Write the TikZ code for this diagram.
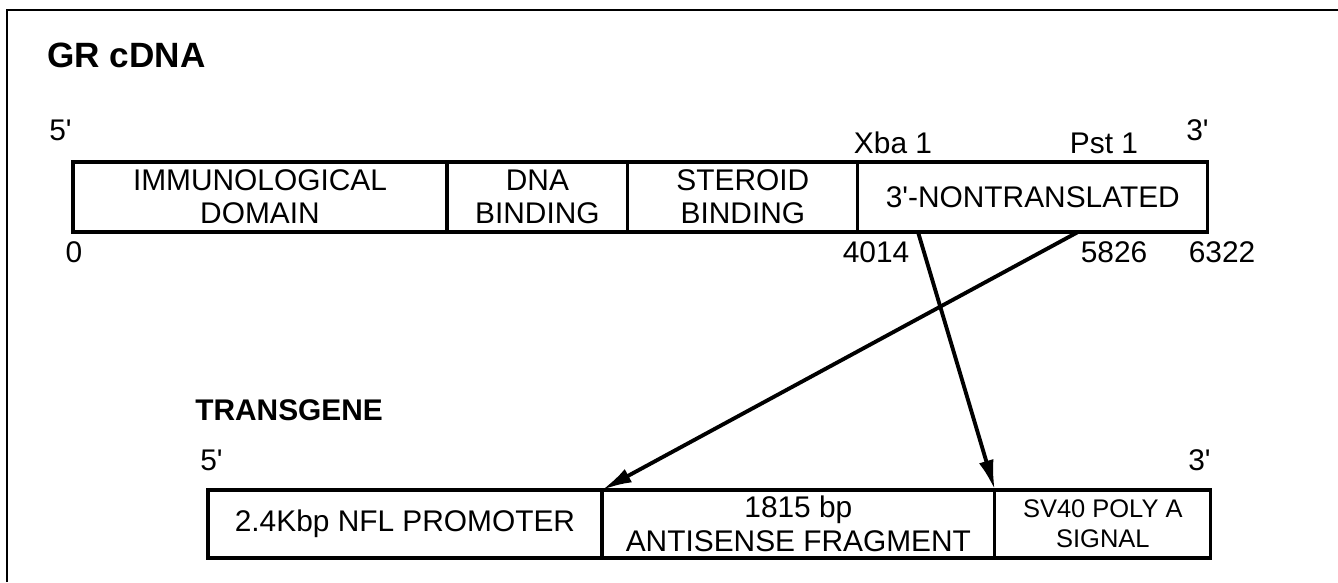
\documentclass[tikz,border=0pt]{standalone}
\usepackage{fontspec}
\setmainfont{Liberation Sans}
\usetikzlibrary{positioning,arrows.meta}
\tikzset{
	seg/.style={draw, line width=1.8pt, outer sep=0pt, inner sep=0pt, minimum height=1.4cm, align=center, font=\fontsize{17}{19}\selectfont},
	lbl/.style={inner sep=0pt, font=\fontsize{17}{19}\selectfont},
	ttl/.style={inner sep=0pt, font=\bfseries\fontsize{20}{22}\selectfont},
	cut/.style={line width=2.2pt, -{Latex[length=0.6cm,width=0.3cm]}}
}
\begin{document}
\begin{tikzpicture}[x=0.02cm,y=-0.02cm]
	\useasboundingbox (0,0) rectangle (1338,582);
	% Frame, only top and left edges show
	\draw[line width=1pt] (7,582) -- (7,10) -- (1338,10);
	% GR cDNA
	\node[ttl,anchor=west] (grtitle) at (47,55) {GR cDNA};
	\node[seg,minimum width=7.48cm,anchor=north west] (immuno) at (73,162) {IMMUNOLOGICAL\\DOMAIN};
	\node[seg,minimum width=3.62cm,right=0pt of immuno] (dnab) {DNA\\BINDING};
	\node[seg,minimum width=4.6cm,right=0pt of dnab] (steroid) {STEROID\\BINDING};
	\node[seg,minimum width=7cm,right=0pt of steroid] (utr) {3\textquotesingle-NONTRANSLATED};
	% Ends and sites
	\node[lbl,anchor=base west] (fivetop) at (49,140) {5\textquotesingle};
	\node[lbl,anchor=base east] (threetop) at (1209,140) {3\textquotesingle};
	\node[lbl,anchor=base] (xbalbl) at (893,153) {Xba 1};
	\node[lbl,anchor=base] (pstlbl) at (1104,153) {Pst 1};
	\node[lbl,anchor=base] (nzero) at (74,262) {0};
	\node[lbl,anchor=base] (n4014) at (876,262) {4014};
	\node[lbl,anchor=base] (n5826) at (1114,262) {5826};
	\node[lbl,anchor=base] (n6322) at (1222,262) {6322};
	% Transgene
	\node[ttl,font=\bfseries\fontsize{17}{20}\selectfont,anchor=west] (tgtitle) at (195,410) {TRANSGENE};
	\node[lbl,anchor=base west] (fivebot) at (200,470) {5\textquotesingle};
	\node[lbl,anchor=base east] (threebot) at (1211,470) {3\textquotesingle};
	\node[seg,minimum width=7.88cm,minimum height=1.36cm,anchor=north west] (promoter) at (208,490) {2.4Kbp NFL PROMOTER};
	\node[seg,minimum width=7.86cm,minimum height=1.36cm,right=0pt of promoter] (antisense) {1815 bp\\ANTISENSE FRAGMENT};
	\node[seg,minimum width=4.32cm,minimum height=1.36cm,right=0pt of antisense,font=\fontsize{14.5}{17}\selectfont] (polya) {SV40 POLY A\\SIGNAL};
	% Fragment cut out
	\coordinate (xba) at (918,232);
	\coordinate (pst) at (1078,232);
	\draw[cut] (xba) -- (antisense.north east);
	\draw[cut] (pst) -- (antisense.north west);
\end{tikzpicture}
\end{document}
